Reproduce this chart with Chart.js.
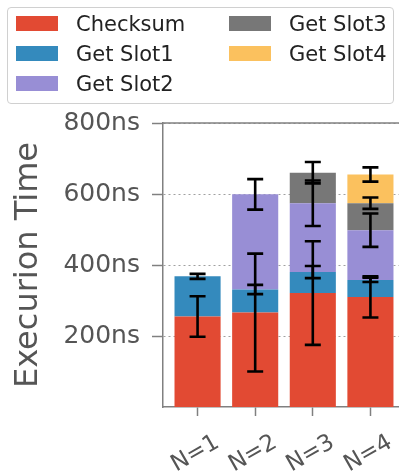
<!DOCTYPE html>
<html>
<head>
<meta charset="utf-8">
<script src="https://cdn.jsdelivr.net/npm/chart.js@4/dist/chart.umd.min.js"></script>
<style>
html, body { margin: 0; padding: 0; overflow: hidden; background: #fff; }
#wrap { position: relative; width: 412px; height: 474px; }
#legend {
    position: absolute; left: 7px; top: 7px; width: 387px; height: 97px;
    box-sizing: border-box; border: 1px solid #d0d0d0; border-radius: 4px;
    background: rgba(255,255,255,0.85);
    font-family: "DejaVu Sans"; font-size: 21px; color: #222;
}
.item { position: absolute; height: 24px; line-height: 24px; white-space: nowrap; }
.patch { position: absolute; left: 0; top: 4px; width: 42px; height: 15px; }
.label { position: absolute; left: 60px; top: 0; }
</style>
</head>
<body>
<div id="wrap">
    <canvas id="chart" width="412" height="474"></canvas>
    <div id="legend"></div>
</div>
<script>
const categories = ["N=1", "N=2", "N=3", "N=4"];

const checksum = [255, 266, 321, 310];
const getSlot1 = [113, 65, 59, 48];
const getSlot2 = [null, 268, 194, 140];
const getSlot3 = [null, null, 86, 76];
const getSlot4 = [null, null, null, 81];

const checksumErr = [57, 166, 146, 58];
const getSlot1Err = [7, 13, 17, 6];
const getSlot2Err = [null, 43, 64, 47];
const getSlot3Err = [null, null, 30, 16];
const getSlot4Err = [null, null, null, 20];

const yTicks = [200, 400, 600, 800];

const series = [
    {label: "Checksum", values: checksum, err: checksumErr, color: "#E24A33"},
    {label: "Get Slot1", values: getSlot1, err: getSlot1Err, color: "#348ABD"},
    {label: "Get Slot2", values: getSlot2, err: getSlot2Err, color: "#988ED5"},
    {label: "Get Slot3", values: getSlot3, err: getSlot3Err, color: "#777777"},
    {label: "Get Slot4", values: getSlot4, err: getSlot4Err, color: "#FBC15E"}
];

Chart.defaults.font.family = "DejaVu Sans";

// draws the error bars at the top of every stacked segment
const errorBars = {
    id: "errorBars",
    afterDatasetsDraw(chart) {
        const ctx = chart.ctx;
        const y = chart.scales.y;
        ctx.save();
        ctx.strokeStyle = "#000";
        ctx.lineWidth = 2.6;
        chart.data.datasets.forEach((ds, d) => {
            const meta = chart.getDatasetMeta(d);
            ds.errors.forEach((e, i) => {
                if (e == null || ds.data[i].y == null) return;
                let top = 0;
                for (let k = 0; k <= d; k++) {
                    top += chart.data.datasets[k].data[i].y || 0;
                }
                const x = meta.data[i].x;
                const y1 = y.getPixelForValue(top + e);
                const y2 = y.getPixelForValue(top - e);
                ctx.beginPath();
                ctx.moveTo(x, y1); ctx.lineTo(x, y2);
                ctx.moveTo(x - 8, y1); ctx.lineTo(x + 8, y1);
                ctx.moveTo(x - 8, y2); ctx.lineTo(x + 8, y2);
                ctx.stroke();
            });
        });
        ctx.restore();
    }
};

// solid top spine
const topSpine = {
    id: "topSpine",
    beforeDatasetsDraw(chart) {
        const {ctx, chartArea} = chart;
        ctx.save();
        ctx.strokeStyle = "#808080";
        ctx.lineWidth = 1.5;
        ctx.beginPath();
        ctx.moveTo(chartArea.left, chartArea.top);
        ctx.lineTo(chartArea.right, chartArea.top);
        ctx.stroke();
        ctx.restore();
    }
};

const chart = new Chart(document.getElementById("chart"), {
    type: "bar",
    data: {
        datasets: series.map(s => ({
            label: s.label,
            data: s.values.map((v, i) => ({x: i, y: v})),
            errors: s.err,
            backgroundColor: s.color,
            borderWidth: 0,
            categoryPercentage: 1,
            barPercentage: 0.8
        }))
    },
    options: {
        responsive: false,
        animation: false,
        layout: {padding: {left: 9, right: 7, top: 123, bottom: 0}},
        plugins: {legend: {display: false}, tooltip: {enabled: false}},
        scales: {
            x: {
                type: "linear",
                stacked: true,
                offset: false,
                min: -0.6,
                max: 3.6,
                afterBuildTicks: s => { s.ticks = categories.map((c, i) => ({value: i})); },
                afterFit: s => { s.height = 67; },
                ticks: {
                    callback: v => categories[v],
                    minRotation: 30,
                    maxRotation: 30,
                    autoSkip: false,
                    labelOffset: 20,
                    padding: 13,
                    color: "#555",
                    font: {size: 23}
                },
                grid: {offset: false, drawOnChartArea: false, tickLength: 9, tickColor: "#808080", tickWidth: 1.5},
                border: {color: "#808080", width: 1.5}
            },
            y: {
                stacked: true,
                min: 0,
                max: 800,
                afterBuildTicks: s => { s.ticks = yTicks.map(v => ({value: v})); },
                ticks: {
                    callback: v => v + "ns",
                    padding: 12,
                    color: "#555",
                    font: {size: 25}
                },
                grid: {color: "#a0a0a0", lineWidth: 1, tickLength: 11, tickColor: "#808080", tickWidth: 1.5},
                border: {color: "#808080", width: 1.5, dash: [2, 3]},
                title: {
                    display: true,
                    text: "Execurion Time",
                    color: "#555",
                    font: {size: 32},
                    padding: {top: 0, bottom: 4}
                }
            }
        }
    },
    plugins: [errorBars, topSpine]
});

const legend = document.getElementById("legend");
chart.data.datasets.forEach((ds, i) => {
    const col = Math.floor(i / 3);
    const row = i % 3;
    const item = document.createElement("div");
    item.className = "item";
    item.style.left = (8 + col * 213) + "px";
    item.style.top = (4 + row * 30) + "px";
    item.innerHTML = '<span class="patch" style="background:' + ds.backgroundColor + '"></span>' +
        '<span class="label">' + ds.label + '</span>';
    legend.appendChild(item);
});
</script>
</body>
</html>
